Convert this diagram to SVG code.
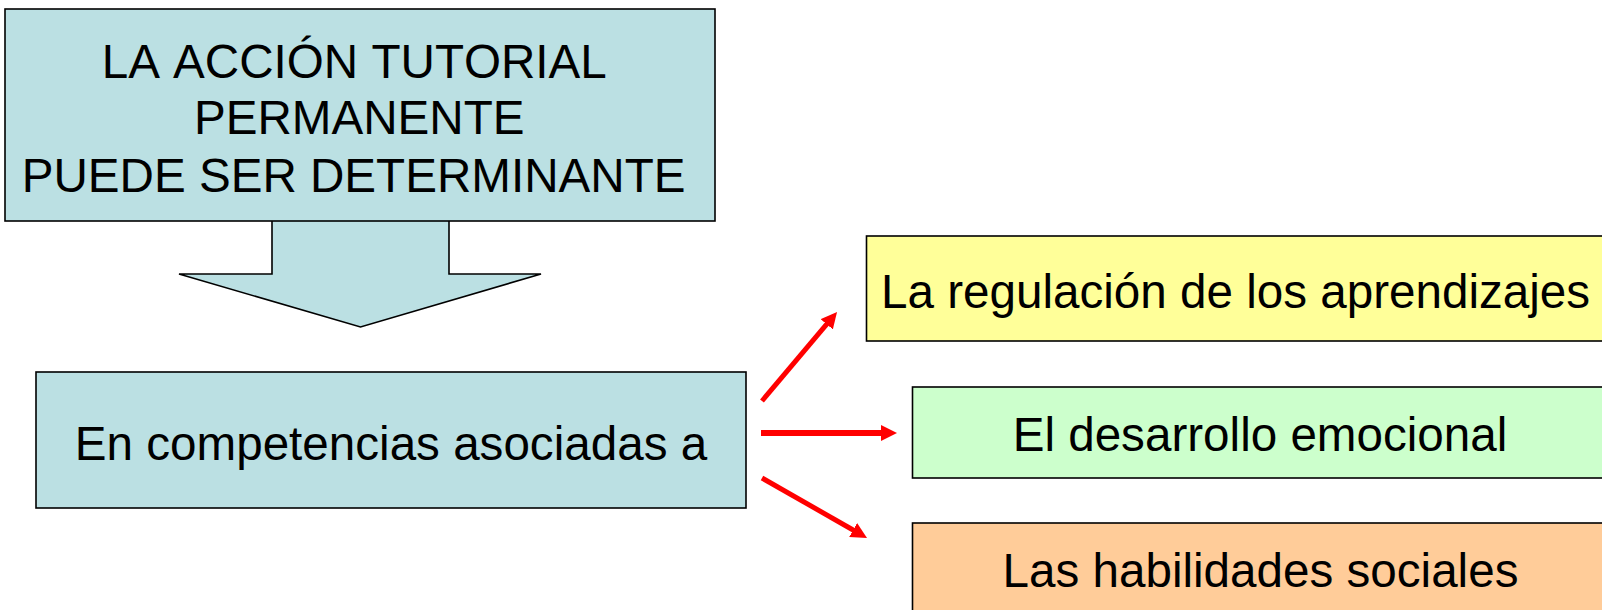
<svg xmlns="http://www.w3.org/2000/svg" width="1602" height="610" viewBox="0 0 1602 610">
<style>
.box{stroke:#000;stroke-width:1.6}
.blue{fill:#BBE0E3}
.yellow{fill:#FFFF99}
.green{fill:#CCFFCC}
.orange{fill:#FFCC99}
text{font-family:"Liberation Sans",Arial,sans-serif;font-size:47.6px;fill:#000;font-kerning:none}
.c{text-anchor:middle}
.arr{stroke:#FF0000;stroke-width:5;fill:none;marker-end:url(#ah)}
</style>
<defs>
<marker id="ah" viewBox="0 0 16 16" markerWidth="16" markerHeight="16" refX="4" refY="8" orient="auto" markerUnits="userSpaceOnUse">
<path d="M0,0 L16,8 L0,16 z" fill="#FF0000"/>
</marker>
</defs>
<rect width="1602" height="610" fill="#FFFFFF"/>
<g id="node-top">
<polygon class="box blue" points="272,215 449,215 449,274 541,274 360.5,327 179,274 272,274"/>
<rect class="box blue" x="5" y="9" width="710" height="212"/>
<text x="101.7" y="77.7">LA ACCIÓN TUTORIAL</text>
<text x="194" y="134">PERMANENTE</text>
<text x="21.7" y="191.7">PUEDE SER DETERMINANTE</text>
</g>
<g id="node-competencias">
<rect class="box blue" x="36" y="372" width="710" height="136"/>
<text class="c" x="391" y="460">En competencias asociadas a</text>
</g>
<g id="node-regulacion">
<rect class="box yellow" x="866.5" y="236" width="740" height="105"/>
<text x="881" y="308">La regulación de los aprendizajes</text>
</g>
<g id="node-emocional">
<rect class="box green" x="912.5" y="387" width="700" height="91"/>
<text class="c" x="1260" y="451">El desarrollo emocional</text>
</g>
<g id="node-sociales">
<rect class="box orange" x="912.5" y="523" width="700" height="100"/>
<text class="c" x="1260.5" y="587">Las habilidades sociales</text>
</g>
<g id="connectors">
<line class="arr" x1="762" y1="401" x2="829.3" y2="321.2"/>
<line class="arr" x1="761" y1="433" x2="885" y2="433" style="stroke-width:6"/>
<line class="arr" x1="762" y1="478" x2="856.6" y2="532"/>
</g>
</svg>
